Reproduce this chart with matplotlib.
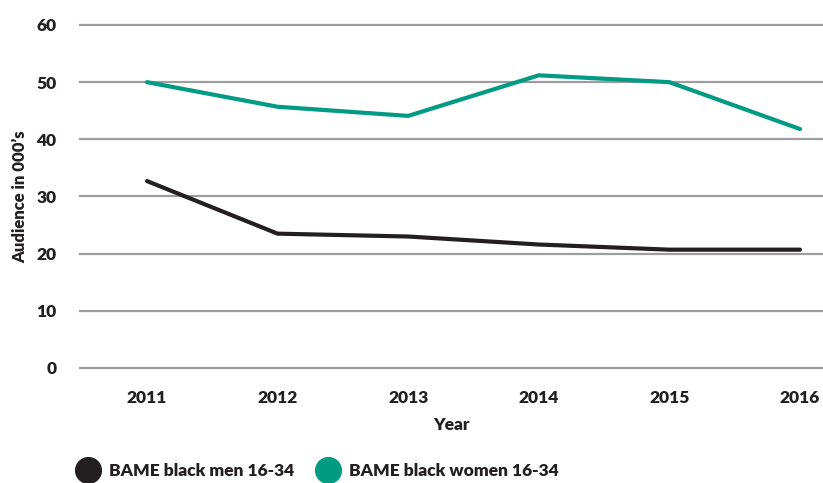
import matplotlib
matplotlib.use("Agg")
import matplotlib.pyplot as plt
from matplotlib.lines import Line2D

years = [2011, 2012, 2013, 2014, 2015, 2016]
men = [32.7, 23.5, 23.0, 21.6, 20.7, 20.7]
women = [50.0, 45.7, 44.1, 51.2, 50.0, 41.8]
series_names = ["BAME black men 16-34", "BAME black women 16-34"]
y_ticks = [0, 10, 20, 30, 40, 50, 60]

TEXT = "#231f20"
TEAL = "#009b82"
GRID = "#9d9d9f"
WEIGHT = "heavy"

plt.rcParams["font.family"] = ["Lato", "DejaVu Sans"]
plt.rcParams["font.weight"] = WEIGHT

fig = plt.figure(figsize=(8.23, 4.83), dpi=100)
ax = fig.add_axes([80 / 823, 115 / 483, 743 / 823, 343 / 483])

ax.plot(years, men, color=TEXT, lw=3.0, solid_capstyle="round", solid_joinstyle="round", label=series_names[0], zorder=3)
ax.plot(years, women, color=TEAL, lw=3.0, solid_capstyle="round", solid_joinstyle="round", label=series_names[1], zorder=3)

ax.set_xlim(2010.487, 2016.176)
ax.set_ylim(0, 60)
ax.set_xticks(years)
ax.set_xticklabels([str(y) for y in years])
ax.set_yticks(y_ticks)

for v in y_ticks:
    ax.axhline(v, color=GRID, lw=1.6, zorder=1, clip_on=False)

for s in ax.spines.values():
    s.set_visible(False)
ax.tick_params(axis="both", length=0, labelsize=12.5, colors=TEXT)
ax.tick_params(axis="x", pad=16)
ax.tick_params(axis="y", pad=17)
for lab in ax.get_xticklabels() + ax.get_yticklabels():
    lab.set_fontweight(WEIGHT)

ax.set_xlabel("Year", fontsize=12.5, fontweight=WEIGHT, color=TEXT, labelpad=8)
ax.set_ylabel("Audience in 000\u2019s", fontsize=12, fontweight=WEIGHT, color=TEXT, labelpad=6)

handles = [
    Line2D([], [], marker="o", ls="none", markersize=18.5, color=TEXT),
    Line2D([], [], marker="o", ls="none", markersize=18.5, color=TEAL),
]
leg = fig.legend(handles, series_names, loc="lower left", bbox_to_anchor=(62 / 823, -0.025),
                 ncol=2, frameon=False, fontsize=12.5, handletextpad=0.6, columnspacing=1.35,
                 handlelength=1.2)
for t in leg.get_texts():
    t.set_color(TEXT)
    t.set_fontweight(WEIGHT)

fig.savefig("out.png", dpi=100)
